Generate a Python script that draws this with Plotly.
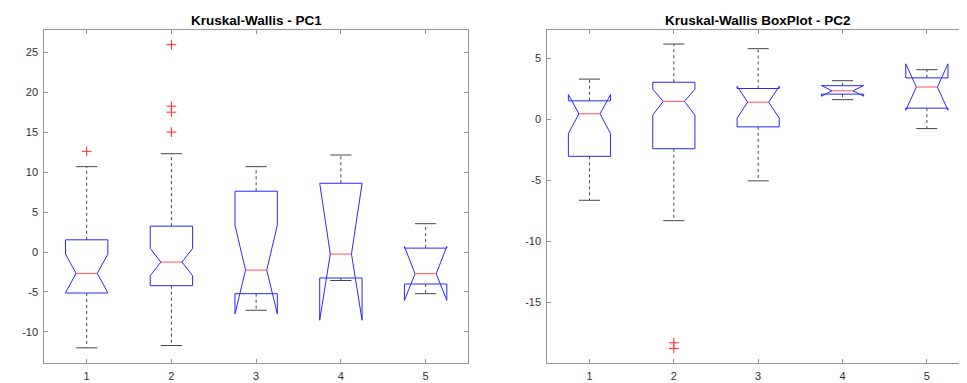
import plotly.graph_objects as go

# ---------------- data ----------------
groups = [1, 2, 3, 4, 5]
group_labels = ["1", "2", "3", "4", "5"]

# PC1
pc1_q1 = [-5.13, -4.21, -5.21, -3.25, -4.00]
pc1_med = [-2.67, -1.25, -2.25, -0.25, -2.71]
pc1_q3 = [1.54, 3.25, 7.63, 8.63, 0.50]
pc1_notch_lo = [-5.09, -2.96, -7.75, -8.54, -6.05]
pc1_notch_hi = [-0.25, 0.46, 3.38, 8.63, 0.70]
pc1_whisk_lo = [-12.00, -11.71, -7.29, -3.56, -5.21]
pc1_whisk_hi = [10.71, 12.33, 10.71, 12.17, 3.56]
pc1_out_x = [1, 2, 2, 2, 2]
pc1_out_y = [12.63, 26.0, 18.29, 17.54, 15.04]

# PC2
pc2_q1 = [-3.04, -2.42, -0.63, 2.05, 0.90]
pc2_med = [0.44, 1.46, 1.39, 2.32, 2.63]
pc2_q3 = [1.50, 3.02, 2.51, 2.74, 3.38]
pc2_notch_lo = [-1.18, 0.33, 0.08, 1.88, 0.73]
pc2_notch_hi = [2.02, 2.45, 2.70, 2.76, 4.53]
pc2_whisk_lo = [-6.64, -8.31, -5.05, 1.60, -0.77]
pc2_whisk_hi = [3.28, 6.15, 5.77, 3.15, 4.05]
pc2_out_x = [2, 2]
pc2_out_y = [-18.30, -18.77]

pc1_ticks = [-10, -5, 0, 5, 10, 15, 20, 25]
pc1_ticktext = ["-10", "-5", "0", "5", "10", "15", "20", "25"]
pc2_ticks = [-15, -10, -5, 0, 5]
pc2_ticktext = ["-15", "-10", "-5", "0", "5"]

title1 = "Kruskal-Wallis - PC1"
title2 = "Kruskal-Wallis BoxPlot - PC2"

# ---------------- styling ----------------
# the page body has an 8px margin, so the figure is 8px smaller in both directions
OFF = 8
W = 967 - OFF
H = 383 - OFF
HALF = 0.25          # half box width (data units)
BOX_COLOR = "rgb(40,40,255)"
MED_COLOR = "rgb(255,80,80)"
WHISK_COLOR = "rgb(70,70,70)"
FRAME_COLOR = "rgb(150,150,150)"
TICKFONT = dict(family="Liberation Sans, Arial, sans-serif", size=11, color="rgb(50,50,50)")
TITLEFONT = dict(family="Liberation Sans, Arial, sans-serif", size=13.5, color="black")

fig = go.Figure()


def add_boxes(q1, med, q3, nlo, nhi, wlo, whi, ox, oy, xa, ya):
    bx, by = [], []
    mx, my = [], []
    wx, wy = [], []
    cx, cy = [], []
    for i, g in enumerate(groups):
        l, r = g - HALF, g + HALF
        il, ir = g - HALF / 2, g + HALF / 2
        bx += [l, l, il, l, l, r, r, ir, r, r, l, None]
        by += [q1[i], nlo[i], med[i], nhi[i], q3[i], q3[i], nhi[i], med[i], nlo[i], q1[i], q1[i], None]
        mx += [il, ir, None]
        my += [med[i], med[i], None]
        wx += [g, g, None, g, g, None]
        wy += [q3[i], whi[i], None, q1[i], wlo[i], None]
        cx += [il, ir, None, il, ir, None]
        cy += [whi[i], whi[i], None, wlo[i], wlo[i], None]
    fig.add_trace(go.Scatter(x=wx, y=wy, mode="lines", xaxis=xa, yaxis=ya,
                             line=dict(color=WHISK_COLOR, width=1, dash="3px,3px"),
                             hoverinfo="skip", showlegend=False))
    fig.add_trace(go.Scatter(x=cx, y=cy, mode="lines", xaxis=xa, yaxis=ya,
                             line=dict(color=WHISK_COLOR, width=1),
                             hoverinfo="skip", showlegend=False))
    fig.add_trace(go.Scatter(x=bx, y=by, mode="lines", xaxis=xa, yaxis=ya,
                             line=dict(color=BOX_COLOR, width=1),
                             hoverinfo="skip", showlegend=False))
    fig.add_trace(go.Scatter(x=mx, y=my, mode="lines", xaxis=xa, yaxis=ya,
                             line=dict(color=MED_COLOR, width=1),
                             hoverinfo="skip", showlegend=False))
    fig.add_trace(go.Scatter(x=ox, y=oy, mode="markers", xaxis=xa, yaxis=ya,
                             marker=dict(symbol="cross-thin", size=7,
                                         line=dict(color="rgb(255,40,40)", width=1)),
                             hoverinfo="skip", showlegend=False))


add_boxes(pc1_q1, pc1_med, pc1_q3, pc1_notch_lo, pc1_notch_hi, pc1_whisk_lo, pc1_whisk_hi,
          pc1_out_x, pc1_out_y, "x", "y")
add_boxes(pc2_q1, pc2_med, pc2_q3, pc2_notch_lo, pc2_notch_hi, pc2_whisk_lo, pc2_whisk_hi,
          pc2_out_x, pc2_out_y, "x2", "y2")

# plot-area geometry (page pixels, converted to figure pixels)
L1, R1 = 44.3 - OFF, 468.0 - OFF
L2, R2 = 547.3 - OFF, 967.0 - OFF
R2_full = 969.0 - OFF
TOP, BOT = 29.5 - OFF, 363.0 - OFF
TITLE_Y = 21.0 - OFF
ydom = [(H - BOT) / H, (H - TOP) / H]
px_per_unit2 = 84.35
x2_end = 0.5 + (R2 - L2) / px_per_unit2

axis_common = dict(showgrid=False, zeroline=False, ticks="inside", ticklen=4,
                   tickcolor=FRAME_COLOR, linecolor=FRAME_COLOR, linewidth=1,
                   showline=True, tickfont=TICKFONT)

fig.update_layout(
    width=W, height=H,
    margin=dict(l=0, r=0, t=0, b=0),
    paper_bgcolor="white", plot_bgcolor="white",
    xaxis=dict(domain=[L1 / W, R1 / W], range=[0.5, 5.5], tickvals=groups, ticktext=group_labels,
               mirror="ticks", anchor="y", ticklabelstandoff=3, **axis_common),
    yaxis=dict(domain=ydom, range=[-13.9, 27.9], tickvals=pc1_ticks, ticktext=pc1_ticktext,
               mirror="ticks", anchor="x", ticklabelstandoff=3, **axis_common),
    xaxis2=dict(domain=[L2 / W, 1.0], range=[0.5, x2_end], tickvals=groups, ticktext=group_labels,
                mirror="ticks", anchor="y2", ticklabelstandoff=3, **axis_common),
    yaxis2=dict(domain=ydom, range=[-19.96, 7.34], tickvals=pc2_ticks, ticktext=pc2_ticktext,
                mirror=False, anchor="x2", ticklabelstandoff=3, **axis_common),
    annotations=[
        dict(text="<b>" + title1 + "</b>", x=(L1 + R1) / 2 / W, y=(H - TITLE_Y) / H,
             xref="paper", yref="paper", showarrow=False, xanchor="center", yanchor="middle",
             font=TITLEFONT),
        dict(text="<b>" + title2 + "</b>", x=(L2 + R2_full) / 2 / W, y=(H - TITLE_Y) / H,
             xref="paper", yref="paper", showarrow=False, xanchor="center", yanchor="middle",
             font=TITLEFONT),
    ],
)

fig.write_html("out.html")
